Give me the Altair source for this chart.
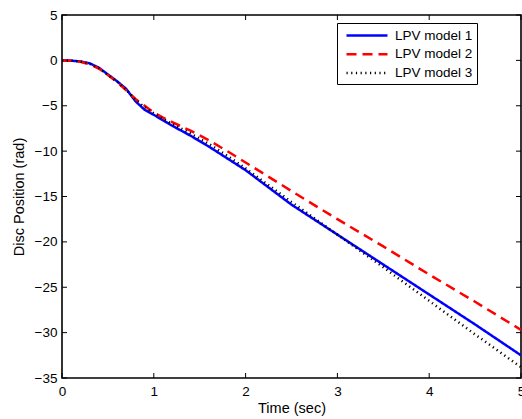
import altair as alt
import pandas as pd

t = [0, 0.1, 0.2, 0.3, 0.4, 0.5, 0.6, 0.7, 0.8, 0.9, 1.0, 1.1, 1.2, 1.4, 1.6, 1.8, 2.0, 2.5, 3.0, 3.5, 4.0, 4.5, 5.0]
model1 = [0, -0.03, -0.12, -0.32, -0.8, -1.55, -2.3, -3.15, -4.5, -5.45, -6.0, -6.6, -7.2, -8.3, -9.5, -10.8, -12.1, -15.9, -19.2, -22.5, -25.8, -29.1, -32.5]
model2 = [0, -0.03, -0.15, -0.42, -0.9, -1.6, -2.4, -3.3, -4.25, -5.0, -5.75, -6.3, -6.8, -7.75, -8.8, -10.0, -11.25, -14.4, -17.5, -20.5, -23.6, -26.6, -29.7]
model3 = [0, -0.03, -0.13, -0.38, -0.85, -1.6, -2.35, -3.25, -4.35, -5.15, -5.85, -6.45, -7.0, -8.05, -9.2, -10.5, -11.9, -15.6, -19.2, -22.8, -26.5, -30.2, -33.8]
series_names = ["LPV model 1", "LPV model 2", "LPV model 3"]
x_ticks = [0, 1, 2, 3, 4, 5]
y_ticks = [-35, -30, -25, -20, -15, -10, -5, 0, 5]

rows = []
for name, vals in zip(series_names, [model1, model2, model3]):
    for ti, v in zip(t, vals):
        rows.append({"t": ti, "y": v, "model": name})
df = pd.DataFrame(rows)

W, H = 459, 363
FONT = "Liberation Sans"

xscale = alt.Scale(domain=[0, 5], nice=False, zero=False)
yscale = alt.Scale(domain=[-35, 5], nice=False, zero=False)

legend_common = dict(title=None, orient="none", legendX=275, legendY=8,
                     symbolType="M-2.93,0L2.93,0", symbolSize=196,
                     symbolOffset=17.5, labelOffset=19.5,
                     labelFont=FONT, labelFontSize=13.5, labelColor="black",
                     strokeColor="black", fillColor="white", padding=4,
                     rowPadding=3.7, symbolStrokeWidth=2.5, symbolFillColor="transparent")

lines = alt.Chart(df).mark_line(clip=True).encode(
    x=alt.X("t:Q", scale=xscale,
            axis=alt.Axis(title="Time (sec)", values=x_ticks, format="d", tickSize=0, labelPadding=6,
                          domain=False, grid=False, titlePadding=4, labelFlush=False)),
    y=alt.Y("y:Q", scale=yscale,
            axis=alt.Axis(title="Disc Position (rad)", values=y_ticks, format="d", tickSize=0, labelPadding=5,
                          domain=False, grid=False, titlePadding=8)),
    color=alt.Color("model:N", scale=alt.Scale(domain=series_names, range=["#0000ff", "#ff0000", "#000000"]),
                    legend=alt.Legend(**legend_common)),
    strokeDash=alt.StrokeDash("model:N", scale=alt.Scale(domain=series_names, range=[[1, 0], [10, 6], [1.2, 3.5]]),
                              legend=alt.Legend(**legend_common)),
    strokeWidth=alt.StrokeWidth("model:N", scale=alt.Scale(domain=series_names, range=[2.5, 2.5, 1.1]),
                                legend=alt.Legend(**legend_common)),
)

xt = pd.DataFrame({"v": x_ticks})
yt = pd.DataFrame({"v": y_ticks})
tick_style = dict(color="black", strokeWidth=1)
xb = alt.Chart(xt).mark_rule(**tick_style).encode(x=alt.X("v:Q", scale=xscale), y=alt.value(H), y2=alt.value(H - 5))
xtop = alt.Chart(xt).mark_rule(**tick_style).encode(x=alt.X("v:Q", scale=xscale), y=alt.value(0), y2=alt.value(5))
yl = alt.Chart(yt).mark_rule(**tick_style).encode(y=alt.Y("v:Q", scale=yscale), x=alt.value(0), x2=alt.value(5))
yr = alt.Chart(yt).mark_rule(**tick_style).encode(y=alt.Y("v:Q", scale=yscale), x=alt.value(W), x2=alt.value(W - 5))

chart = alt.layer(xb, xtop, yl, yr, lines).properties(
    width=W, height=H,
    autosize=alt.AutoSizeParams(type="none"),
    padding={"left": 62, "top": 15, "right": 1, "bottom": 41},
    background="white",
).configure_view(
    stroke="black", strokeWidth=1.6
).configure_axis(
    labelFont=FONT, labelFontSize=13.5, labelColor="black",
    titleFont=FONT, titleFontSize=14.5, titleFontWeight="normal", titleColor="black",
)

chart.save("out.html", embed_options={"renderer": "svg", "actions": False})
